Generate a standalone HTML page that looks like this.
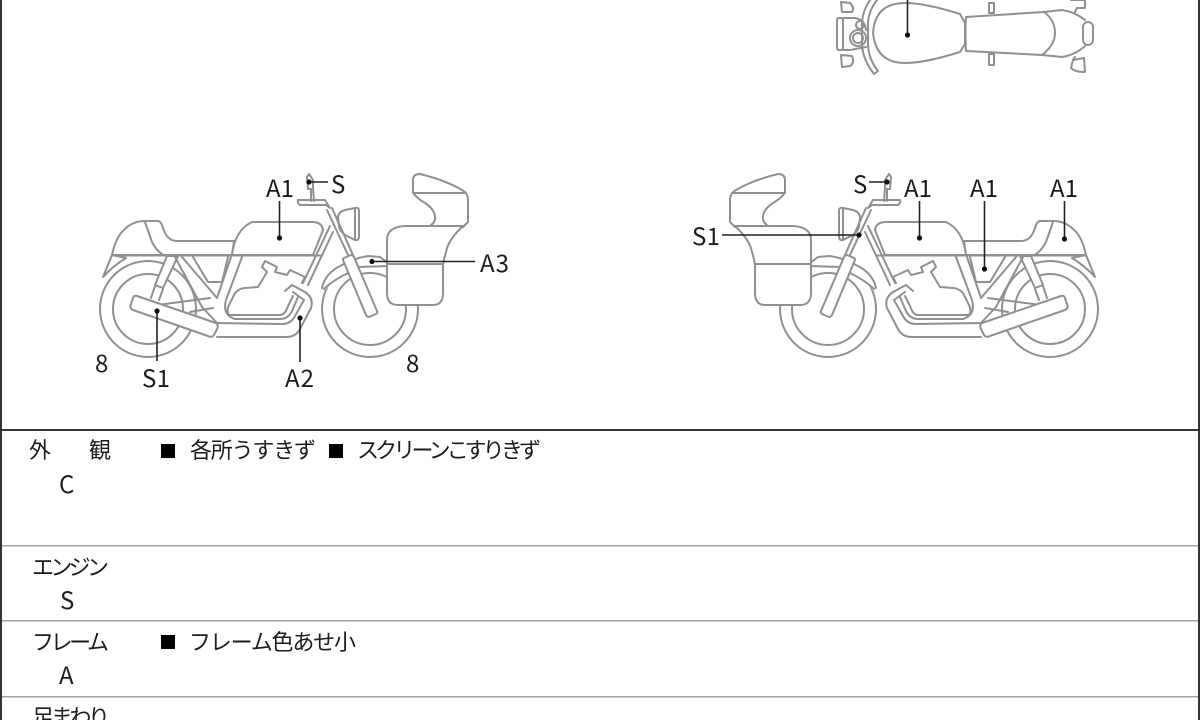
<!DOCTYPE html>
<html><head><meta charset="utf-8"><style>
html,body{margin:0;padding:0;background:#fff}
svg{display:block}
text{font-family:"Noto Sans CJK JP","Liberation Sans",sans-serif;fill:#1c1c1c}
.l{font-size:24px}
.t{font-size:22px}
.p{fill:#fff;stroke:#909090;stroke-width:2;stroke-linejoin:round;stroke-linecap:round}
.n{fill:none;stroke:#909090;stroke-width:2;stroke-linejoin:round;stroke-linecap:round}
.k{stroke:#222;stroke-width:1.6;fill:none}
</style></head><body>
<svg width="1200" height="720" viewBox="0 0 1200 720" xmlns="http://www.w3.org/2000/svg">
<rect width="1200" height="720" fill="#fff"/>
<defs>
<g id="bike">
  <circle class="p" cx="148" cy="309" r="48"/>
  <circle class="n" cx="148" cy="309" r="35"/>
  <path class="p" d="M112,255 L103,277 Q113,266 126,258 Z"/>
  <path class="n" d="M150,306 L210,298 M190,312 L213,308"/>
  <path class="p" d="M167,256 L178,256 L163,288 L155,285 Z"/>
  <path class="n" d="M155,286 L151,298 M163,289 L159,300"/>
  <path class="n" d="M175,257 L202,307 L217,323 M182,257 L217,298 L231,257 M193,257 L208,282 L222,282 L228,257"/>
  <path class="p" d="M112,255 Q116,236 125,229 Q133,221 145,221 L158,221 Q161,221 163,228 Q167,241 177,241 L234,241 L232,255 Z"/>
  <path class="n" d="M145,222 L152,242 Q156,250 163,255"/>
  <path class="p" d="M232,255 Q235,230 252,222 L312,222 Q322,222 323,230 L313,255 Z"/>
  <path class="n" d="M112,255.5 L322,255.5"/>
  <path class="n" d="M229,315 Q226,311 229,305 L235,293 Q240,288 245,288 L258,287 L267,272 L262,267 L265,261 L277,267 L275,272 L287,275 L290,270 L305,277 L302,283"/>
  <path class="n" d="M242,257 L226,300 Q222,315 235,319 L280,319 Q288,319 292,311 L298,297"/>
  <path class="n" d="M229,315 L280,315 Q285,315 288,306 L293,296"/>
  <path class="n" d="M217,323 L282,324 Q291,324 295,316 L304,300 L293,292"/>
  <path class="n" d="M217,337 L286,337 Q296,337 300,329 L311,308 Q314,298 305,292 L292,285 L285,291"/>
  <path class="p" d="M137,296 L216,323 Q219,325 217,329 L214,335 Q212,338 208,336 L133,310 Q129,308 131,304 L133,298 Q134,295 137,296 Z"/>
  <path class="n" d="M330,226 L303,283 M333,232 L308,285"/>
  <path class="p" d="M338,218 Q338,212 345,210 L355,208 Q359,207 359,211 L359,236 Q359,241 355,240 L345,235 Q339,230 339,226 Z"/>
  <path class="n" d="M355,208 L355,240"/>
  <circle class="p" cx="370" cy="309" r="48"/>
  <circle class="n" cx="370" cy="309" r="36"/>
  <path d="M322,288 Q325,272 345,263 Q355,258 368,256 L380,257 L390,263 L390,270 L360,270 L348,273 Q336,278 325,290 Z" fill="#fff"/>
  <path class="n" d="M322,288 Q325,273 342,265 Q355,258 368,256 L380,257 L388,263 M324,289 Q332,281 348,273 M358,267 L388,266"/>
  <path class="n" d="M327,210 L348,255 M332,208 L353,255"/>
  <path class="p" d="M344,258 L351,255 Q353,255 354,257 L377,311 Q378,313 376,314 L369,317 Q367,317 366,315 L343,260 Q343,258 344,258 Z"/>
  <path class="p" d="M298,200 L325,200 L330,208 L326,205 L300,205 Q297,203 298,200 Z"/>
  <path class="n" d="M307,177 L309,174 L313,180 L313,188 L314,201 M307,177 L308,189 L311,189 L311,201"/>
  <path class="p" d="M413,192 L413,180 Q413,174 420,174 Q445,180 462,190 Q468,193 468,200 L468,222 L463,227 L430,226 Q436,222 435,216 Q434,209 425,203 Q415,197 413,192 Z"/>
  <path class="n" d="M413,193 L465,193"/>
  <path class="p" d="M387,240 Q387,227 405,226 L463,226 Q448,240 446,252 Q444,258 443,265 L443,293 Q443,305 433,305 L398,305 Q387,305 387,293 Z"/>
  <path class="n" d="M387,264 L443,264"/>
</g>
</defs>

<path class="n" d="M841,2 L850,3 Q855,8 852,12 L842,12 Z M841,55 L852,56 Q855,63 850,66 L842,67 Z"/>
<rect class="n" x="837" y="18" width="6" height="32" rx="2"/>
<path class="n" d="M843,18 L855,18 Q865,20 866,30 M843,50 L850,50 L866,47"/>
<circle class="n" cx="858" cy="38" r="8"/><circle class="n" cx="858" cy="38" r="5"/><circle class="n" cx="860" cy="25" r="4"/>
<path class="n" d="M877,0 Q869,10 868,22 L868,45 Q869,60 878,71 L874,74 Q863,60 862,45 L862,22 Q863,10 870,0"/>
<path class="n" d="M873,33 Q875,3 905,3 Q925,3 960,14 L965,23 L965,44 L960,52 Q925,63 905,63 Q876,63 873,33 Z"/>
<path class="n" d="M966,17 L1044,12 Q1055,20 1055,33 Q1055,45 1042,55 L966,51 Q965,34 966,17 Z"/>
<path class="n" d="M1044,12 L1062,10 Q1075,12 1085,20 M1085,46 Q1075,55 1062,57 L1042,55"/>
<rect class="n" x="1083" y="22" width="10" height="23" rx="5"/>
<rect class="n" x="989" y="3" width="5" height="10"/><rect class="n" x="989" y="54" width="5" height="11"/>
<path class="n" d="M1071,0 L1085,0 L1085,8 L1077,8 L1075,12 M1075,57 L1073,60 L1084,58 L1085,72 Q1075,72 1071,68 L1073,60"/>
<path class="k" d="M907.5,0 V35"/><circle cx="907.5" cy="35" r="2.6" fill="#111"/>

<use href="#bike"/>
<use href="#bike" transform="translate(1198,0) scale(-1,1)"/>

<g class="k">
<path d="M279.5,201 V238 M309,182 H328 M372,261.5 H475 M300,318 V362 M157,311 V361"/>
<path d="M919.5,201 V238 M984.5,201 V269 M1064.5,201 V239 M722,235 H859 M869,182 H887"/>
</g>
<g fill="#111">
<circle cx="279.5" cy="238" r="2.6"/><circle cx="309" cy="182" r="2.6"/><circle cx="372" cy="261.5" r="2.6"/><circle cx="300" cy="318" r="2.6"/><circle cx="157" cy="311" r="2.6"/>
<circle cx="919.5" cy="238" r="2.6"/><circle cx="984.5" cy="269" r="2.6"/><circle cx="1064.5" cy="239" r="2.6"/><circle cx="859" cy="235" r="2.6"/><circle cx="887" cy="182" r="2.6"/>
</g>
<g class="l">
<text x="266" y="197" textLength="28">A1</text>
<text x="331" y="193">S</text>
<text x="480" y="272" textLength="29">A3</text>
<text x="285" y="387" textLength="29">A2</text>
<text x="142" y="387" textLength="28">S1</text>
<text x="95" y="372">8</text>
<text x="406" y="372">8</text>
<text x="853" y="193">S</text>
<text x="904" y="197" textLength="28">A1</text>
<text x="970" y="197" textLength="28">A1</text>
<text x="1050" y="197" textLength="28">A1</text>
<text x="692" y="245" textLength="28">S1</text>
</g>

<rect x="0" y="0" width="2" height="720" fill="#333"/>
<rect x="1198" y="0" width="2" height="720" fill="#333"/>
<rect x="0" y="429" width="1200" height="2" fill="#333"/>
<rect x="2" y="545" width="1196" height="1.5" fill="#a0a0a0"/>
<rect x="2" y="620" width="1196" height="1.5" fill="#a0a0a0"/>
<rect x="2" y="696" width="1196" height="1.5" fill="#a0a0a0"/>
<g class="t">
<text x="29" y="458">外</text>
<text x="89" y="458">観</text>
<rect x="161" y="444" width="14" height="14" fill="#000"/>
<text x="190" y="458" textLength="126" lengthAdjust="spacing">各所うすきず</text>
<rect x="329" y="444" width="14" height="14" fill="#000"/>
<text x="357" y="458" textLength="184" lengthAdjust="spacing">スクリーンこすりきず</text>
<text x="32" y="575" textLength="77" lengthAdjust="spacing">エンジン</text>
<text x="32" y="650" textLength="77" lengthAdjust="spacing">フレーム</text>
<rect x="161" y="635" width="14" height="14" fill="#000"/>
<text x="189" y="650" textLength="167" lengthAdjust="spacing">フレーム色あせ小</text>
<text x="32" y="725" textLength="78" lengthAdjust="spacing">足まわり</text>
</g>
<g class="l">
<text x="59" y="493">C</text>
<text x="60" y="609">S</text>
<text x="59" y="684">A</text>
</g>
</svg>
</body></html>
